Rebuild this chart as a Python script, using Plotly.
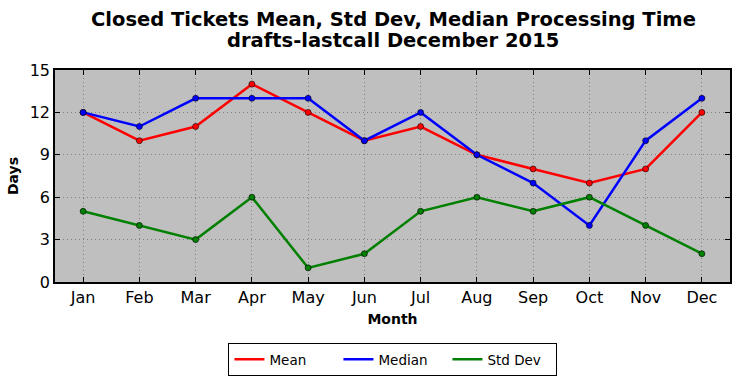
import plotly.graph_objects as go

months = ["Jan","Feb","Mar","Apr","May","Jun","Jul","Aug","Sep","Oct","Nov","Dec"]
mean_vals = [12, 10, 11, 14, 12, 10, 11, 9, 8, 7, 8, 12]
median_vals = [12, 11, 13, 13, 13, 10, 12, 9, 7, 4, 10, 13]
std_vals = [5, 4, 3, 6, 1, 2, 5, 6, 5, 6, 4, 2]
y_ticks = [0, 3, 6, 9, 12, 15]
title_lines = ["Closed Tickets Mean, Std Dev, Median Processing Time",
               "drafts-lastcall December 2015"]

series = [("Mean", mean_vals, "#ff0000"), ("Median", median_vals, "#0000ff"), ("Std Dev", std_vals, "#008000")]
x = list(range(len(months)))

fig = go.Figure()
for name, vals, col in series:
    fig.add_trace(go.Scatter(x=x, y=vals, mode="lines", name=name,
                             line=dict(color=col, width=2.5)))
for name, vals, col in series:
    fig.add_trace(go.Scatter(x=x, y=vals, mode="markers", showlegend=False,
                             marker=dict(color=col, size=6, line=dict(color="black", width=0.6))))

font = "DejaVu Sans"
H = 378
for txt, yc in zip(title_lines, [19, 41]):
    fig.add_annotation(text="<b>%s</b>" % txt, xref="paper", yref="paper",
                       x=(393 - 55) / 675, y=1 + (70 - yc) / 212,
                       xanchor="center", yanchor="middle", showarrow=False,
                       font=dict(size=19.5, family=font, color="black"))

fig.update_layout(
    width=740, height=H,
    margin=dict(l=55, r=10, t=70, b=96),
    paper_bgcolor="white", plot_bgcolor="#bfbfbf",
    font=dict(family=font, color="black"),
    showlegend=True,
    legend=dict(orientation="h", x=0.531, xanchor="center", xref="container",
                y=1 - 343 / 378, yanchor="top", yref="container",
                bordercolor="black", borderwidth=1, bgcolor="white",
                font=dict(size=13.5, family=font), itemwidth=30, entrywidth=64),
    xaxis=dict(range=[-0.5, 11.5], tickvals=x, ticktext=months, automargin=False,
               showgrid=True, gridcolor="#808080", griddash="1px,3px", gridwidth=1,
               ticks="inside", ticklen=5, tickcolor="black", mirror="ticks",
               showline=True, linecolor="black", linewidth=1.5,
               zeroline=False, tickfont=dict(size=16),
               title=dict(text="<b>Month</b>", font=dict(size=14), standoff=8)),
    yaxis=dict(range=[0, 15], tickvals=y_ticks, automargin=False,
               showgrid=True, gridcolor="#808080", griddash="1px,3px", gridwidth=1,
               ticks="inside", ticklen=5, tickcolor="black", mirror="ticks",
               showline=True, linecolor="black", linewidth=1.5,
               zeroline=False, tickfont=dict(size=16),
               title=dict(text="<b>Days</b>", font=dict(size=14), standoff=8)),
)
fig.write_html("out.html", config={"displayModeBar": False},
               post_script="document.body.style.margin='0';document.body.style.overflow='hidden';")
